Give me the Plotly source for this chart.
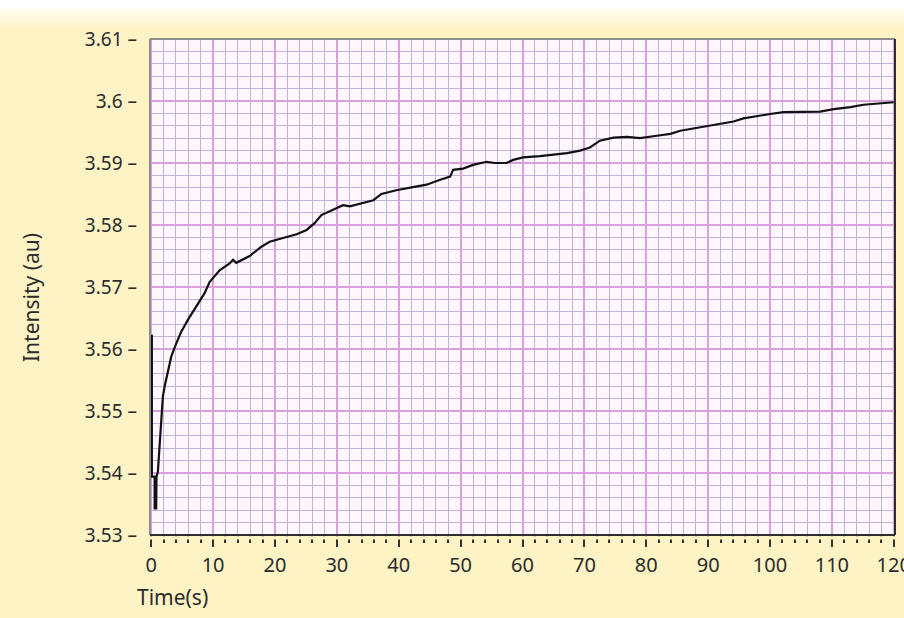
import plotly.graph_objects as go

# Intensity trace recorded over two minutes
time_s = [0.1, 0.1, 0.55, 0.55, 0.8, 0.85, 1.07, 1.34, 1.62, 1.88, 2.15, 2.69, 3.24, 4.05,
          4.85, 5.92, 6.73, 7.82, 8.62, 9.43, 11.05, 12.67, 13.2, 13.75, 15.9, 17.8, 19.14,
          21.3, 23.5, 25.1, 26.4, 27.5, 29.4, 31.0, 32.1, 34.2, 35.9, 37.2, 39.6, 42.3, 44.5,
          46.7, 48.3, 48.8, 50.4, 52.0, 54.2, 55.5, 57.4, 58.5, 60.1, 62.8, 65.0, 67.2, 69.3,
          70.9, 72.5, 74.7, 76.9, 79.0, 81.7, 83.9, 85.5, 88.2, 90.9, 94.1, 95.7, 97.9, 100.0,
          102.2, 105.4, 108.1, 110.3, 113.0, 115.1, 117.8, 120.0]
intensity_au = [3.5623, 3.5394, 3.5394, 3.5343, 3.5343, 3.5394, 3.5402, 3.5448, 3.5481,
                3.5523, 3.5539, 3.5566, 3.5588, 3.5609, 3.5628, 3.5647, 3.5660, 3.5679,
                3.5690, 3.5708, 3.5727, 3.5738, 3.5744, 3.5739, 3.5750, 3.5765, 3.5773,
                3.5779, 3.5785, 3.5792, 3.5803, 3.5816, 3.5825, 3.5832, 3.5830, 3.5835,
                3.5840, 3.5850, 3.5856, 3.5861, 3.5865, 3.5873, 3.5878, 3.5889, 3.5891,
                3.5897, 3.5902, 3.5900, 3.5900, 3.5905, 3.5909, 3.5911, 3.5913, 3.5916,
                3.5920, 3.5925, 3.5936, 3.5941, 3.5942, 3.5940, 3.5944, 3.5947, 3.5952,
                3.5957, 3.5961, 3.5967, 3.5972, 3.5976, 3.5979, 3.5982, 3.5983, 3.5983,
                3.5987, 3.5990, 3.5994, 3.5996, 3.5998]

x_tick_vals = list(range(0, 121, 10))
x_tick_text = [str(v) for v in x_tick_vals]
y_tick_vals = [3.53, 3.54, 3.55, 3.56, 3.57, 3.58, 3.59, 3.60, 3.61]
y_tick_text = ["3.53", "3.54", "3.55", "3.56", "3.57", "3.58", "3.59", "3.6", "3.61"]

W, H = 904, 618
L, R, T, B = 150, 9, 39, 83
PW, PH = W - L - R, H - T - B

PANEL = "#fdf3c5"
PLOT_BG = "#fef8fe"
MAJOR_GRID = "#d9a0dd"
MINOR_GRID = "#c4b0de"
TEXT = "#2b2b2b"
FONT = "Noto Sans"


def px_x(p):
    return (p - L) / PW


def px_y(p):
    return (H - B - p) / PH


fig = go.Figure()
fig.add_trace(go.Scatter(
    x=time_s, y=intensity_au, mode="lines",
    line=dict(color="#111111", width=2.2),
    showlegend=False, hoverinfo="skip",
))

axis_common = dict(showline=False, zeroline=False, showgrid=True, layer="below traces",
                   automargin=False)

fig.update_xaxes(
    **axis_common,
    range=[-0.2, 120.2],
    tickmode="array", tickvals=x_tick_vals, ticktext=x_tick_text,
    gridcolor=MAJOR_GRID, gridwidth=1.5,
    ticks="outside", ticklen=11, tickwidth=2, tickcolor="#333333",
    ticklabelstandoff=1, ticklabeloverflow="allow",
    tickfont=dict(family=FONT, size=20, color=TEXT),
    minor=dict(dtick=2, tick0=0, showgrid=True, gridcolor=MINOR_GRID, gridwidth=1.2,
               ticks="outside", ticklen=7, tickwidth=2, tickcolor="#333333"),
)
fig.update_yaxes(
    **axis_common,
    range=[3.53, 3.61],
    tickmode="array", tickvals=y_tick_vals,
    ticktext=[t + " \u2013" for t in y_tick_text],
    gridcolor=MAJOR_GRID, gridwidth=1.5,
    ticks="", ticklabelstandoff=12,
    tickfont=dict(family=FONT, size=19, color=TEXT),
    minor=dict(dtick=0.002, tick0=3.53, showgrid=True, gridcolor=MINOR_GRID, gridwidth=1.2),
)

shapes = []
# top strip: white edge fading into the panel colour
shapes.append(dict(type="rect", xref="paper", yref="paper", layer="below",
                   x0=px_x(0), x1=px_x(W), y0=px_y(8), y1=px_y(0),
                   fillcolor="#ffffff", line=dict(width=0)))
band_cols = ["#fffdf0", "#fffbe6", "#fff9dd", "#fef7d4", "#fef5cc"]
for i, c in enumerate(band_cols):
    shapes.append(dict(type="rect", xref="paper", yref="paper", layer="below",
                       x0=px_x(0), x1=px_x(W), y0=px_y(8 + 4 * (i + 1)), y1=px_y(8 + 4 * i),
                       fillcolor=c, line=dict(width=0)))
# small gap between the plot frame and the x tick marks
shapes.append(dict(type="rect", xref="paper", yref="paper", layer="above",
                   x0=px_x(L - 2), x1=px_x(W - R + 2), y0=px_y(539.5), y1=px_y(536.2),
                   fillcolor=PANEL, line=dict(width=0)))
# plot frame: light top/left, dark bottom/right
frame = [
    (0, 1, 1, 1, "#8c8c8c"),
    (0, 0, 0, 1, "#8c8c8c"),
    (0, 1, 0, 0, "#2e2e2e"),
    (1, 1, 0, 1, "#2e2e2e"),
]
for x0, x1, y0, y1, c in frame:
    shapes.append(dict(type="line", xref="paper", yref="paper", layer="above",
                       x0=x0, x1=x1, y0=y0, y1=y1, line=dict(color=c, width=2)))

annotations = [
    dict(text="Intensity (au)", xref="paper", yref="paper", x=px_x(31), y=px_y(297),
         textangle=-90, showarrow=False, xanchor="center", yanchor="middle",
         font=dict(family=FONT, size=21, color=TEXT)),
    dict(text="Time(s)", xref="paper", yref="paper", x=px_x(135), y=px_y(597),
         showarrow=False, xanchor="left", yanchor="middle",
         font=dict(family=FONT, size=21, color=TEXT)),
]

fig.update_layout(
    width=W, height=H,
    margin=dict(l=L, r=R, t=T, b=B, pad=0, autoexpand=False),
    paper_bgcolor=PANEL, plot_bgcolor=PLOT_BG,
    shapes=shapes, annotations=annotations,
    showlegend=False,
)

fig.write_html("out.html")
